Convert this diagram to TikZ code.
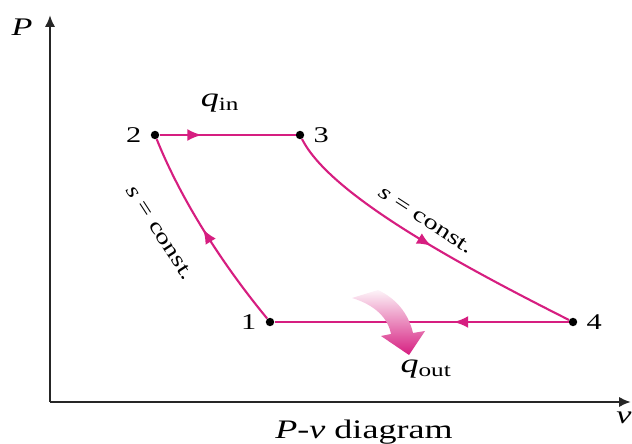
\documentclass[tikz,border=0pt]{standalone}
\usepackage{fontspec}
\setmainfont[FakeStretch=1.35]{Liberation Serif}
\usepackage{xcolor}
\usetikzlibrary{arrows.meta, positioning, decorations.markings}
\definecolor{cycmag}{RGB}{214,30,128}

\begin{document}
\begin{tikzpicture}[
    x=0.025cm, y=-0.025cm,
    every node/.style={font=\fontsize{16}{18}\selectfont},
    dot/.style={circle, fill=black, inner sep=0pt, minimum size=6pt},
    axis/.style={line width=1.8pt, draw=black!85, -{Latex[length=3mm, width=2.6mm]}},
    proc/.style={line width=1.5pt, draw=cycmag},
    midarrow/.style={postaction={decorate}, decoration={markings,
        mark=at position #1 with {\arrow{Latex[length=3.6mm, width=3mm, color=cycmag]}}}}
]
\useasboundingbox (0,0) rectangle (632,444);

% axes
\coordinate (orig) at (50,402);
\coordinate (ytip) at (50,15);
\coordinate (xtip) at (631,402);
\draw[axis] (orig) -- (ytip);
\draw[axis] (orig) -- (xtip);
\node[font=\fontsize{18}{20}\selectfont\itshape] (plab) at (22,27) {P};
\node[font=\fontsize{18}{20}\selectfont\itshape] (vlab) at (624,418) {v};

% state points
\node[dot] (p1) at (270,322) {};
\node[dot] (p2) at (155,135) {};
\node[dot] (p3) at (300,135) {};
\node[dot] (p4) at (573,322) {};
\node[left=3pt of p1] (l1) {1};
\node[left=3pt of p2] (l2) {2};
\node[right=3pt of p3] (l3) {3};
\node[right=3pt of p4] (l4) {4};

% processes
\draw[proc, midarrow=0.52] (p1) .. controls (219,260) and (180,197) .. (p2);
\draw[proc, midarrow=0.31] (p2) -- (p3);
\draw[proc, midarrow=0.52] (p3) .. controls (330,195) and (460,265) .. (p4);
\draw[proc, midarrow=0.39] (p4) -- (p1);

% labels
\node[font=\fontsize{19}{21}\selectfont] (qin) at (220,103) {\textit{q}\textsubscript{in}};
\node[font=\fontsize{15}{17}\selectfont, rotate=-57] (sleft) at (160,233) {\textit{s} = const.};
\node[font=\fontsize{15}{17}\selectfont, rotate=-33] (sright) at (426,220) {\textit{s} = const.};

% heat rejected
\shade[top color=cycmag!5, bottom color=cycmag]
    (352,298) .. controls (375,305) and (388,318) .. (391,334) -- (381,336)
    -- (409,355) -- (425,331) -- (413,333)
    .. controls (408,312) and (395,298) .. (378,290) -- cycle;
\node[font=\fontsize{19}{21}\selectfont] (qout) at (426,369) {\textit{q}\textsubscript{out}};

\node[font=\fontsize{19}{21}\selectfont] (cap) at (364,432) {\textit{P}-\textit{v} diagram};

\end{tikzpicture}
\end{document}
